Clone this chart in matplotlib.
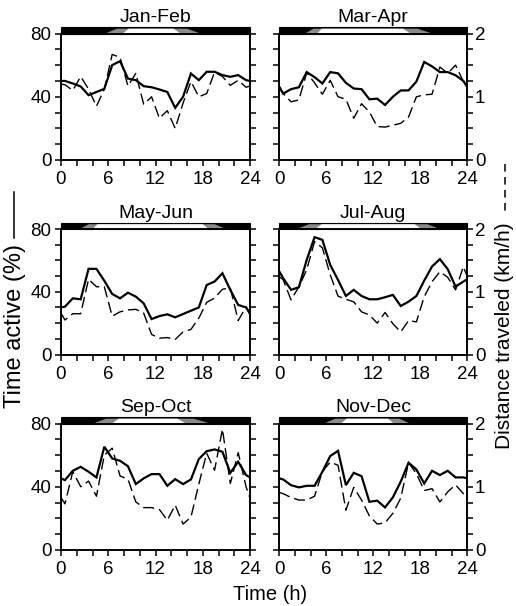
import matplotlib
matplotlib.use("Agg")
import matplotlib.pyplot as plt
from matplotlib.patches import Polygon, Rectangle
from matplotlib.lines import Line2D
import matplotlib.transforms as mtransforms

plt.rcParams['font.family'] = ['Liberation Sans', 'DejaVu Sans']

hours = [0, 0.5, 1.5, 2.5, 3.5, 4.5, 5.5, 6.5, 7.5, 8.5, 9.5, 10.5, 11.5,
         12.5, 13.5, 14.5, 15.5, 16.5, 17.5, 18.5, 19.5, 20.5, 21.5, 22.5, 23.5, 24]

panels = ["Jan-Feb", "Mar-Apr", "May-Jun", "Jul-Aug", "Sep-Oct", "Nov-Dec"]

# Time active (%) - solid line
active_janfeb = [50, 50, 48.4, 46.5, 41, 43, 45, 60, 62.5, 51.5, 50.5, 46.7, 46, 44.6, 43, 33,
                 40, 54.7, 50.5, 55.8, 55.8, 53.7, 52.6, 53.7, 50.5, 50]
active_marapr = [46, 42, 44.8, 46, 55.6, 52.4, 48.4, 55.6, 54.8, 48.8, 45.2, 44.8, 38.4, 38.8,
                 34.8, 40, 44, 44, 49.6, 62, 59.2, 55.6, 55.6, 53.6, 50, 46]
active_mayjun = [30, 30.5, 35.8, 35.2, 54.6, 54.6, 47, 38.6, 35.8, 39.4, 36.9, 32.6, 22.6, 24.5,
                 25.6, 23.7, 25.8, 27.9, 30, 44.3, 46.5, 51.8, 41.2, 31.6, 30, 26.2]
active_julaug = [52.9, 48.6, 41.2, 42.9, 60.3, 74.8, 73.1, 57.1, 47.5, 37.3, 41.2, 37.3, 35.2,
                 35.2, 36.5, 38, 30.9, 33.7, 37.3, 47.1, 56.1, 60.8, 54.4, 43.3, 46.5, 48]
active_sepoct = [45.3, 44.2, 50.1, 52.6, 49.5, 45.9, 65.3, 57.9, 56.4, 53, 41.7, 45.3, 48, 48,
                 40.6, 44.8, 41.7, 44.6, 57.5, 62.5, 63.6, 62.1, 48.8, 55.8, 47.4, 45.9]
active_novdec = [45.3, 44.6, 41, 39.6, 40.6, 40.6, 49.5, 59.4, 62.7, 41, 48.8, 46.7, 30.5, 31.2,
                 26.9, 33.3, 43.2, 55.2, 50.9, 42.1, 50.1, 47.4, 50.1, 45.9, 45.9, 45.3]

# Distance traveled (km/h) - dashed line
dist_janfeb = [1.2, 1.19, 1.1, 1.32, 1.12, 0.85, 1.12, 1.67, 1.62, 1.17, 1.37, 0.88, 1.0, 0.66,
               0.78, 0.5, 0.9, 1.24, 1.0, 1.05, 1.39, 1.32, 1.18, 1.26, 1.15, 1.17]
dist_marapr = [1.17, 1.05, 0.92, 0.95, 1.38, 1.22, 1.04, 1.26, 1.0, 0.96, 0.66, 0.89, 0.76,
               0.53, 0.52, 0.55, 0.58, 0.68, 1.0, 1.03, 1.04, 1.47, 1.37, 1.5, 1.24, 1.15]
dist_mayjun = [0.66, 0.55, 0.65, 0.65, 1.2, 1.08, 1.08, 0.61, 0.68, 0.71, 0.72, 0.66, 0.32,
               0.26, 0.27, 0.24, 0.36, 0.4, 0.58, 0.83, 0.9, 1.04, 1.06, 0.54, 0.76, 0.63]
dist_julaug = [1.24, 1.19, 0.87, 1.08, 1.35, 1.8, 1.7, 1.27, 0.93, 0.88, 0.84, 0.68, 0.63, 0.5,
               0.67, 0.49, 0.36, 0.54, 0.52, 0.92, 1.16, 1.32, 1.23, 1.03, 1.4, 1.24]
dist_sepoct = [0.83, 0.73, 1.24, 1.0, 1.09, 0.85, 1.5, 1.61, 1.17, 1.12, 0.76, 0.67, 0.67, 0.64,
               0.47, 0.71, 0.41, 0.52, 1.04, 1.53, 1.26, 1.91, 1.05, 1.54, 1.0, 0.82]
dist_novdec = [0.91, 0.89, 0.83, 0.79, 0.79, 0.85, 1.24, 1.39, 1.34, 0.63, 0.99, 0.79, 0.54,
               0.41, 0.43, 0.58, 0.82, 1.38, 1.21, 0.94, 0.97, 0.76, 0.92, 1.03, 0.89, 0.87]

active = [active_janfeb, active_marapr, active_mayjun, active_julaug, active_sepoct, active_novdec]
dist = [dist_janfeb, dist_marapr, dist_mayjun, dist_julaug, dist_sepoct, dist_novdec]

# light regime bar: twilight start, daylight start, daylight end, twilight end (h)
twilight_start = [5.6, 3.3, 2.4, 2.2, 4.1, 5.7]
day_start = [8.6, 5.4, 4.6, 5.4, 7.3, 8.6]
day_end = [14.3, 15.8, 18.0, 17.3, 14.8, 13.9]
twilight_end = [17.7, 19.5, 21.0, 20.5, 18.9, 16.7]

W, H = 516, 606
fig = plt.figure(figsize=(W / 100, H / 100), dpi=100)

lefts = [61, 279.3]
widths = [189, 188]
tops = [33.5, 229, 423.5]
bottoms = [160, 354.5, 550]

for i, name in enumerate(panels):
    r, c = divmod(i, 2)
    rect = [lefts[c] / W, (H - bottoms[r]) / H, widths[c] / W, (bottoms[r] - tops[r]) / H]
    ax = fig.add_axes(rect)
    ax2 = ax.twinx()
    ax.plot(hours, active[i], color='black', lw=1.6, solid_joinstyle='miter', zorder=3)
    ax2.plot(hours, dist[i], color='black', lw=1.0, dashes=(8, 3.5), zorder=3)
    ax.set_xlim(0, 24)
    ax.set_ylim(0, 80)
    ax2.set_ylim(0, 2)
    ax.set_xticks(range(0, 25, 2))
    ax.set_xticklabels([str(h) if h % 6 == 0 else '' for h in range(0, 25, 2)])
    ax.set_yticks(range(0, 81, 10))
    ax2.set_yticks([k * 0.25 for k in range(9)])
    if c == 0:
        ax.set_yticklabels([str(v) if v % 40 == 0 else '' for v in range(0, 81, 10)])
        ax2.set_yticklabels([''] * 9)
    else:
        ax.set_yticklabels([''] * 9)
        ax2.set_yticklabels(['0', '', '', '', '1', '', '', '', '2'])
    for a in (ax, ax2):
        for s in a.spines.values():
            s.set_linewidth(1.2)
    ax.tick_params(axis='both', direction='out', length=4, width=1.1, labelsize=13.5, pad=3)
    ax.tick_params(axis='x', pad=4)
    ax2.tick_params(axis='y', direction='out', length=4, width=1.1, labelsize=13.5, pad=1.5)
    ax.set_title(name, fontsize=14, pad=8)

    # light regime bar above the panel
    tr = mtransforms.blended_transform_factory(ax.transData, ax.transAxes)
    y0, y1 = 1.0, 1.048
    ax.add_patch(Rectangle((0, y0), 24, y1 - y0, transform=tr, facecolor='black',
                           edgecolor='black', lw=0.8, clip_on=False, zorder=5))
    a_, b_, c_, d_ = twilight_start[i], day_start[i], day_end[i], twilight_end[i]
    yt = y1 - 0.01
    ax.add_patch(Polygon([(a_, y0), (a_ + 0.5 * (b_ - a_), yt), (d_ - 0.5 * (d_ - c_), yt),
                          (d_, y0)],
                         closed=True, transform=tr, facecolor='#8a8a8a', edgecolor='none',
                         clip_on=False, zorder=6))
    a2 = a_ + 0.75 * (b_ - a_)
    d2 = d_ - 0.75 * (d_ - c_)
    ax.add_patch(Polygon([(a2, y0), (b_, yt), (c_, yt), (d2, y0)],
                         closed=True, transform=tr, facecolor='white', edgecolor='none',
                         clip_on=False, zorder=7))
    ax.add_line(Line2D([0, 24], [y0, y0], transform=tr, color='black', lw=1.2,
                       clip_on=False, zorder=8))

# axis labels
fig.text(15 / W, 1 - 326 / H, "Time active (%)", rotation=90, ha='center', va='center',
         fontsize=17)
fig.add_artist(Line2D([14 / W, 14 / W], [1 - 192 / H, 1 - 238 / H], transform=fig.transFigure,
                      color='black', lw=1.1))
fig.text(504 / W, 1 - 336 / H, "Distance traveled (km/h)", rotation=90, ha='center',
         va='center', fontsize=15)
fig.add_artist(Line2D([505 / W, 505 / W], [1 - 164 / H, 1 - 214 / H], transform=fig.transFigure,
                      color='black', lw=1.1, dashes=(5, 3.5)))
fig.text(270 / W, 1 - 594 / H, "Time (h)", ha='center', va='center', fontsize=14.5)

fig.savefig("out.png", dpi=100)
